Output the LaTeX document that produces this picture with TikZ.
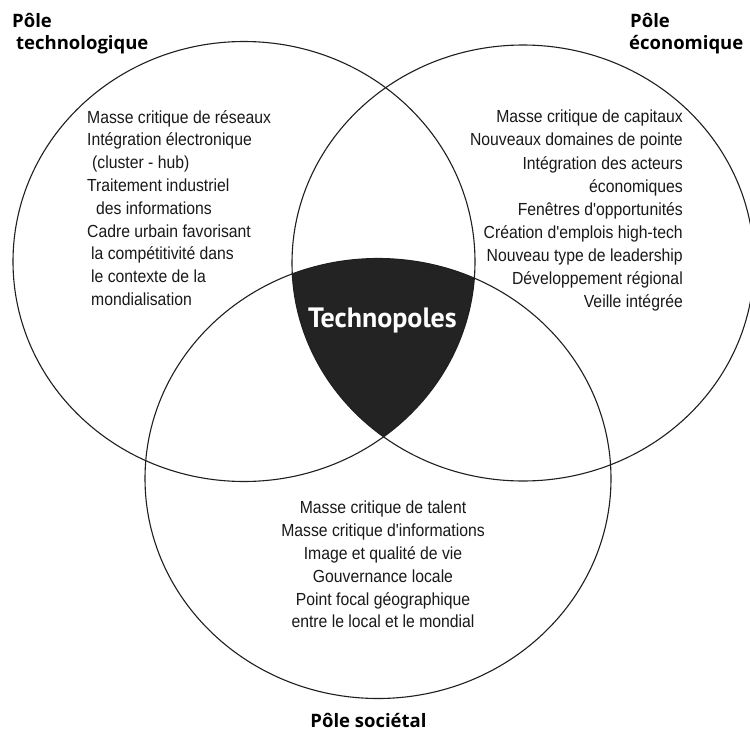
\documentclass[tikz,border=0pt]{standalone}
\usepackage{fontspec}
\setmainfont{Liberation Sans}
\newfontfamily\bodyfont[FakeStretch=0.9]{Liberation Sans}
\newfontfamily\titlefont{Open Sans}
\newfontfamily\corefont{PT Sans}
\definecolor{darkfill}{HTML}{232323}
\begin{document}
\begin{tikzpicture}[x=1pt,y=-1pt,
  ring/.style={draw=black!88, line width=1.1pt},
  bodytext/.style={font=\bodyfont\fontsize{17.5}{22.8}\selectfont, inner sep=0pt, text=black!90},
  poletitle/.style={font=\titlefont\bfseries\fontsize{18.5}{22}\selectfont, inner sep=0pt, text=black},
  coretitle/.style={font=\corefont\bfseries\fontsize{28}{32}\selectfont, inner sep=0pt, text=white}]
\useasboundingbox (0,0) rectangle (750,731);
\fill[white] (0,0) rectangle (750,731);
% central intersection
\begin{scope}
  \clip (244,261.5) ellipse [x radius=231pt, y radius=220pt];
  \clip (523,263) ellipse [x radius=231pt, y radius=218pt];
  \fill[darkfill] (378,478.5) ellipse [x radius=233pt, y radius=220pt];
\end{scope}
% three circles
\draw[ring] (244,261.5) ellipse [x radius=231pt, y radius=220pt];
\draw[ring] (523,263) ellipse [x radius=231pt, y radius=218pt];
\draw[ring] (378,478.5) ellipse [x radius=233pt, y radius=220pt];
% titles
\node[poletitle, anchor=base west] (t1a) at (12,27) {Pôle};
\node[poletitle, anchor=base west] (t1b) at (16,49) {technologique};
\node[poletitle, anchor=base west] (t2a) at (630,27) {Pôle};
\node[poletitle, anchor=base west] (t2b) at (629,49) {économique};
\node[poletitle, anchor=base] (t3) at (368.5,727) {Pôle sociétal};
\node[coretitle, anchor=base] (core) at (382.5,327) {Technopoles};
% texts
\node[bodytext, anchor=north west, align=left] (txtech) at (87,110) {Masse critique de réseaux\\
Intégration électronique\\
\hspace*{5pt}(cluster - hub)\\
Traitement industriel\\
\hspace*{9pt}des informations\\
Cadre urbain favorisant\\
\hspace*{4pt}la compétitivité dans\\
\hspace*{4pt}le contexte de la\\
\hspace*{4pt}mondialisation};
\node[bodytext, font=\bodyfont\fontsize{17.5}{23.1}\selectfont, anchor=north east, align=right] (txeco) at (683,110) {Masse critique de capitaux\\
Nouveaux domaines de pointe\\
Intégration des acteurs\\
économiques\hspace*{4pt}\\
Fenêtres d'opportunités\\
Création d'emplois high-tech\\
Nouveau type de leadership\\
Développement régional\\
Veille intégrée};
\node[bodytext, anchor=north, align=center] (txsoc) at (383,501) {Masse critique de talent\\
Masse critique d'informations\\
Image et qualité de vie\\
Gouvernance locale\\
Point focal géographique\\
entre le local et le mondial};
\end{tikzpicture}
\end{document}
